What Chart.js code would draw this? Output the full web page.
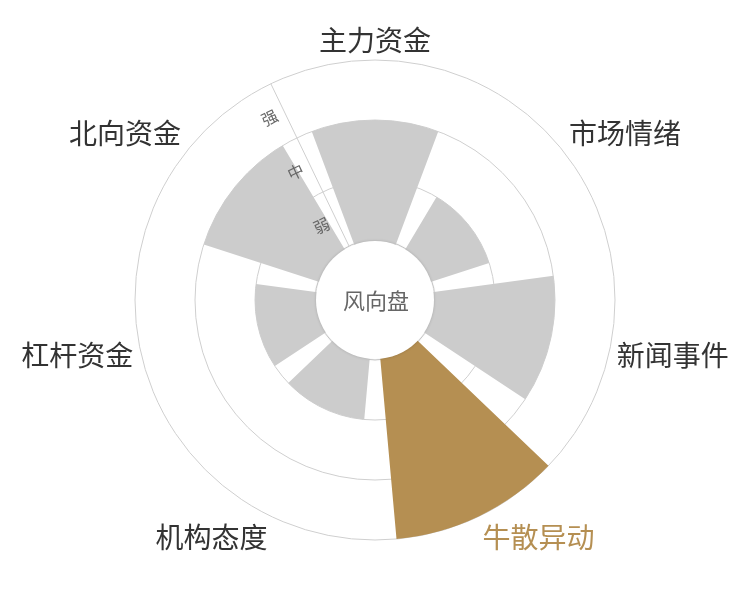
<!DOCTYPE html>
<html>
<head>
<meta charset="utf-8">
<script src="https://cdn.jsdelivr.net/npm/chart.js@4/dist/chart.umd.min.js"></script>
<style>
    html, body { margin: 0; padding: 0; background: #fff; }
    canvas { display: block; }
</style>
</head>
<body>
<canvas id="chart-wind" width="750" height="600"></canvas>
<script>
// 风向盘: seven capital/sentiment factors, strength on a 弱/中/强 scale
const categories = ['主力资金', '市场情绪', '新闻事件', '牛散异动', '机构态度', '杠杆资金', '北向资金'];
const levels = ['弱', '中', '强'];
const strength = [2, 1, 2, 3, 1, 1, 2];   // 1 = 弱, 2 = 中, 3 = 强
const highlight = '牛散异动';
const centerTitle = '风向盘';

const GRAY = '#cccccc';
const GOLD = '#b58f52';
const LINE = '#cfcfcf';
const FONT = '"Noto Sans CJK SC", "Noto Sans", sans-serif';

const slotAngle = 360 / categories.length;
const barAngle = slotAngle * 0.8;
const gapAngle = slotAngle - barAngle;

// every bar is followed by an empty slice so the wedges get radial gaps
const sliceLabels = categories.flatMap(c => [c, '']);
const sliceValues = strength.flatMap(v => [v, -1]);

const toRad = d => d * Math.PI / 180;

const overlay = {
    id: 'windOverlay',
    afterDatasetsDraw(chart) {
        const { ctx } = chart;
        const r = chart.scales.r;
        const cx = r.xCenter;
        const cy = r.yCenter;
        const hole = r.getDistanceFromCenterForValue(0);
        const outer = r.getDistanceFromCenterForValue(levels.length);

        ctx.save();

        // radius axis line, sitting in the gap before the first bar
        const axisAng = toRad(-slotAngle / 2);
        const ux = Math.sin(axisAng), uy = -Math.cos(axisAng);
        ctx.strokeStyle = LINE;
        ctx.lineWidth = 1;
        ctx.beginPath();
        ctx.moveTo(cx + ux * hole, cy + uy * hole);
        ctx.lineTo(cx + ux * outer, cy + uy * outer);
        ctx.stroke();

        // 弱 / 中 / 强 along the axis
        ctx.fillStyle = '#666';
        ctx.font = '16px ' + FONT;
        ctx.textAlign = 'right';
        ctx.textBaseline = 'middle';
        levels.forEach((lv, i) => {
            const d = r.getDistanceFromCenterForValue(i + 0.5);
            ctx.save();
            ctx.translate(cx + ux * d, cy + uy * d);
            ctx.rotate(axisAng);
            ctx.fillText(lv, -8, 0);
            ctx.restore();
        });

        // center disc
        ctx.save();
        ctx.shadowColor = 'rgba(0,0,0,0.18)';
        ctx.shadowBlur = 3;
        ctx.fillStyle = '#fff';
        ctx.beginPath();
        ctx.arc(cx, cy, hole - 1, 0, Math.PI * 2);
        ctx.fill();
        ctx.restore();

        ctx.fillStyle = '#666';
        ctx.font = '22px ' + FONT;
        ctx.textAlign = 'center';
        ctx.textBaseline = 'middle';
        ctx.fillText(centerTitle, cx + 1, cy + 1);

        // category names outside the rim
        ctx.font = '28px ' + FONT;
        const lr = outer + 8;
        categories.forEach((name, i) => {
            const a = toRad(i * slotAngle);
            const px = cx + Math.sin(a) * lr;
            const py = cy - Math.cos(a) * lr;
            ctx.textAlign = Math.abs(px - cx) / lr < 0.3 ? 'center' : (px > cx ? 'left' : 'right');
            ctx.textBaseline = Math.abs(py - cy) / lr < 0.3 ? 'middle' : (py > cy ? 'top' : 'bottom');
            ctx.fillStyle = name === highlight ? GOLD : '#333';
            ctx.fillText(name, px, py + (py < cy ? 2 : 0));
        });

        ctx.restore();
    }
};

new Chart(document.getElementById('chart-wind'), {
    type: 'polarArea',
    data: {
        labels: sliceLabels,
        datasets: [{
            data: sliceValues,
            angle: c => (c.dataIndex % 2 ? gapAngle : barAngle),
            backgroundColor: c => {
                if (c.dataIndex % 2) return 'rgba(0,0,0,0)';
                return categories[c.dataIndex / 2] === highlight ? GOLD : GRAY;
            },
            borderWidth: 0,
        }],
    },
    options: {
        responsive: false,
        animation: false,
        layout: { padding: 60 },
        plugins: {
            legend: { display: false },
            tooltip: { enabled: false },
        },
        scales: {
            r: {
                min: -1,
                max: levels.length,
                startAngle: -barAngle / 2,
                ticks: { display: false, stepSize: 1 },
                grid: { color: LINE, lineWidth: 1, circular: true },
                angleLines: { display: false },
                pointLabels: { display: false },
            },
        },
    },
    plugins: [overlay],
});
</script>
</body>
</html>
